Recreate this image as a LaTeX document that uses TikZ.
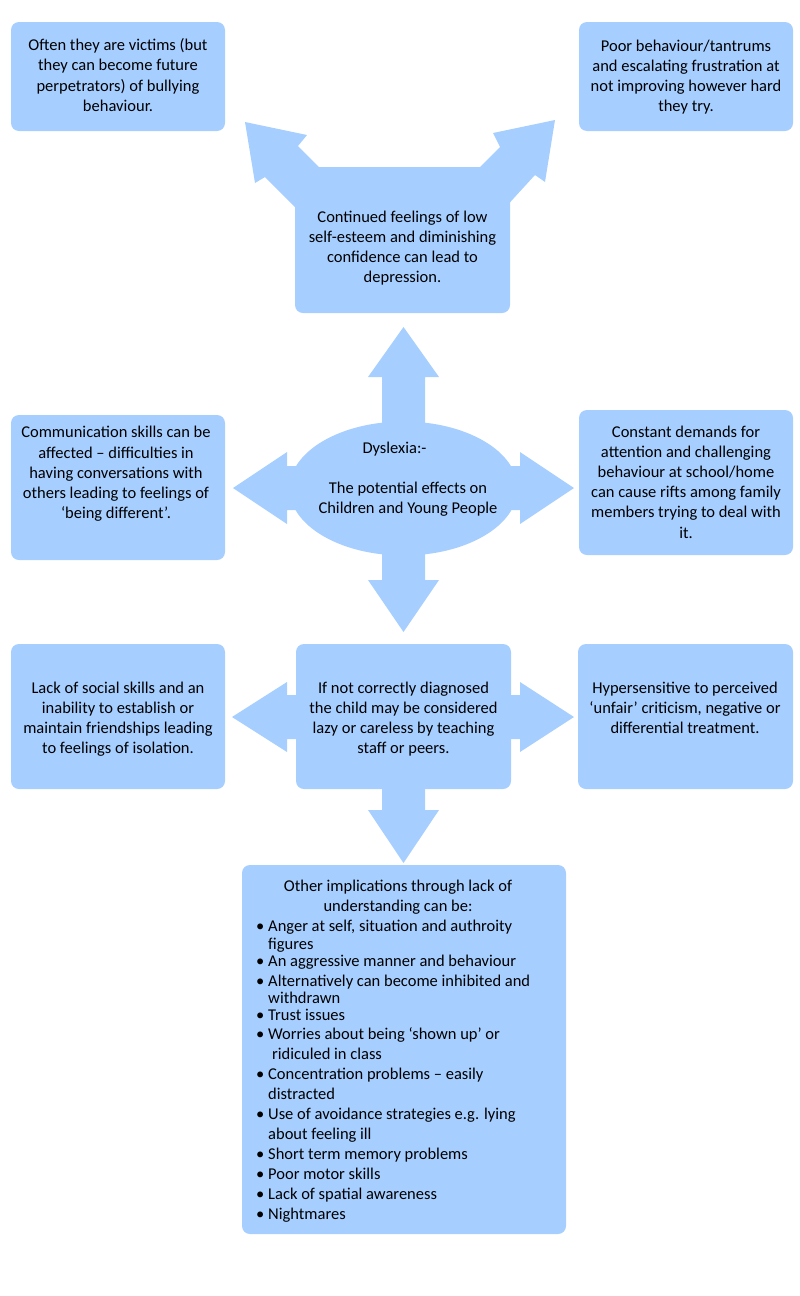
\documentclass[tikz,border=0pt]{standalone}
\usepackage{fontspec}
\setmainfont{Carlito}
\definecolor{boxblue}{RGB}{166,206,255}
\begin{document}
\begin{tikzpicture}[x=1pt,y=-1pt,
  every node/.style={font=\fontsize{16.5}{20.2}\selectfont, text=black},
  box/.style={fill=boxblue, rounded corners=8pt},
  blk/.style={fill=boxblue},
  txt/.style={align=center, inner sep=0pt},
  item/.style={anchor=west, inner sep=0pt, text height=12pt, text depth=4pt}]
\useasboundingbox (0,0) rectangle (800,1296);

% --- side boxes ---
\fill[box] (11,22) rectangle (225,131);
\fill[box] (579,22) rectangle (793,131);
\fill[box] (11,415) rectangle (225,560);
\fill[box] (579,410) rectangle (793,555);
\fill[box] (11,644) rectangle (225,789);
\fill[box] (578,644) rectangle (793,789);

% --- top centre shape: box with two diagonal arrows ---
\fill[box] (295,167) rectangle (510,313);
\fill[blk] (245,122) -- (307,135) -- (298,146) -- (345,193) -- (310,222) -- (265,177) -- (255,183) -- cycle;
\fill[blk] (555,120) -- (493,133) -- (500,147) -- (455,192) -- (492,222) -- (535,175) -- (545,182) -- cycle;

% --- centre ellipse with four arrows ---
\fill[blk] (382,488) -- (382,377) -- (368,377) -- (403.5,327) -- (439,377) -- (425,377) -- (425,488) -- cycle;
\fill[blk] (382,488) -- (382,580) -- (368,580) -- (403.5,632) -- (439,580) -- (425,580) -- (425,488) -- cycle;
\fill[blk] (403,466) -- (287,466) -- (287,452) -- (233,488) -- (287,524) -- (287,510) -- (403,510) -- cycle;
\fill[blk] (403,466) -- (520,466) -- (520,452) -- (574,488) -- (520,524) -- (520,510) -- (403,510) -- cycle;
\fill[blk] (403.5,488.5) ellipse [x radius=114, y radius=67];

% --- lower centre box with three arrows ---
\fill[blk] (403,695) -- (287,695) -- (287,682) -- (232,717) -- (287,752) -- (287,739) -- (403,739) -- cycle;
\fill[blk] (403,695) -- (520,695) -- (520,682) -- (574,717) -- (520,752) -- (520,739) -- (403,739) -- cycle;
\fill[blk] (382,717) -- (382,810) -- (368,810) -- (403.5,863) -- (439,810) -- (425,810) -- (425,717) -- cycle;
\fill[box] (296,644) rectangle (511,789);

% --- bottom box ---
\fill[box] (242,865) rectangle (566,1234);

% --- texts ---
\node[txt] (ttl) at (118,75) {Often they are victims (but\\they can become future\\perpetrators) of bullying\\behaviour.};
\node[txt] (ttr) at (686,77) {Poor behaviour/tantrums\\and escalating frustration at\\not improving however hard\\they try.};
\node[txt] (ttc) at (402.5,248) {Continued feelings of low\\self-esteem and diminishing\\confidence can lead to\\depression.};
\node[txt] (tdys) at (408,479) {Dyslexia:-\hspace*{27pt}\\[20pt]The potential effects on\\Children and Young People};
\node[txt] (tml) at (116,474) {Communication skills can be\\affected -- difficulties in\\having conversations with\\others leading to feelings of\\‘being different’.};
\node[txt] (tmr) at (686,482) {Constant demands for\\attention and challenging\\behaviour at school/home\\can cause rifts among family\\members trying to deal with\\it.};
\node[txt] (tll) at (118,719) {Lack of social skills and an\\inability to establish or\\maintain friendships leading\\to feelings of isolation.};
\node[txt] (tlc) at (403.5,719) {If not correctly diagnosed\\the child may be considered\\lazy or careless by teaching\\staff or peers.};
\node[txt] (tlr) at (685,708) {Hypersensitive to perceived\\‘unfair’ criticism, negative or\\differential treatment.};

\node[txt] (thd) at (398,897) {Other implications through lack of\\understanding can be:};

\foreach \y/\b/\x/\t [count=\i] in {
  927/1/268/{Anger at self, situation and authroity},
  945/0/268/{figures},
  962/1/268/{An aggressive manner and behaviour},
  982/1/268/{Alternatively can become inhibited and},
  999/0/268/{withdrawn},
  1016/1/268/{Trust issues},
  1035/1/268/{Worries about being ‘shown up’ or},
  1055/0/272/{ridiculed in class},
  1075/1/268/{Concentration problems – easily},
  1095/0/268/{distracted},
  1115/1/268/{Use of avoidance strategies e.g. lying},
  1135/0/268/{about feeling ill},
  1155/1/268/{Short term memory problems},
  1175/1/268/{Poor motor skills},
  1195/1/268/{Lack of spatial awareness},
  1215/1/268/{Nightmares}}{
  \node[item] (li\i) at (\x,\y) {\t};
  \ifnum\b=1 \node[item] (bu\i) at (256,\y) {•}; \fi
}
\end{tikzpicture}
\end{document}
